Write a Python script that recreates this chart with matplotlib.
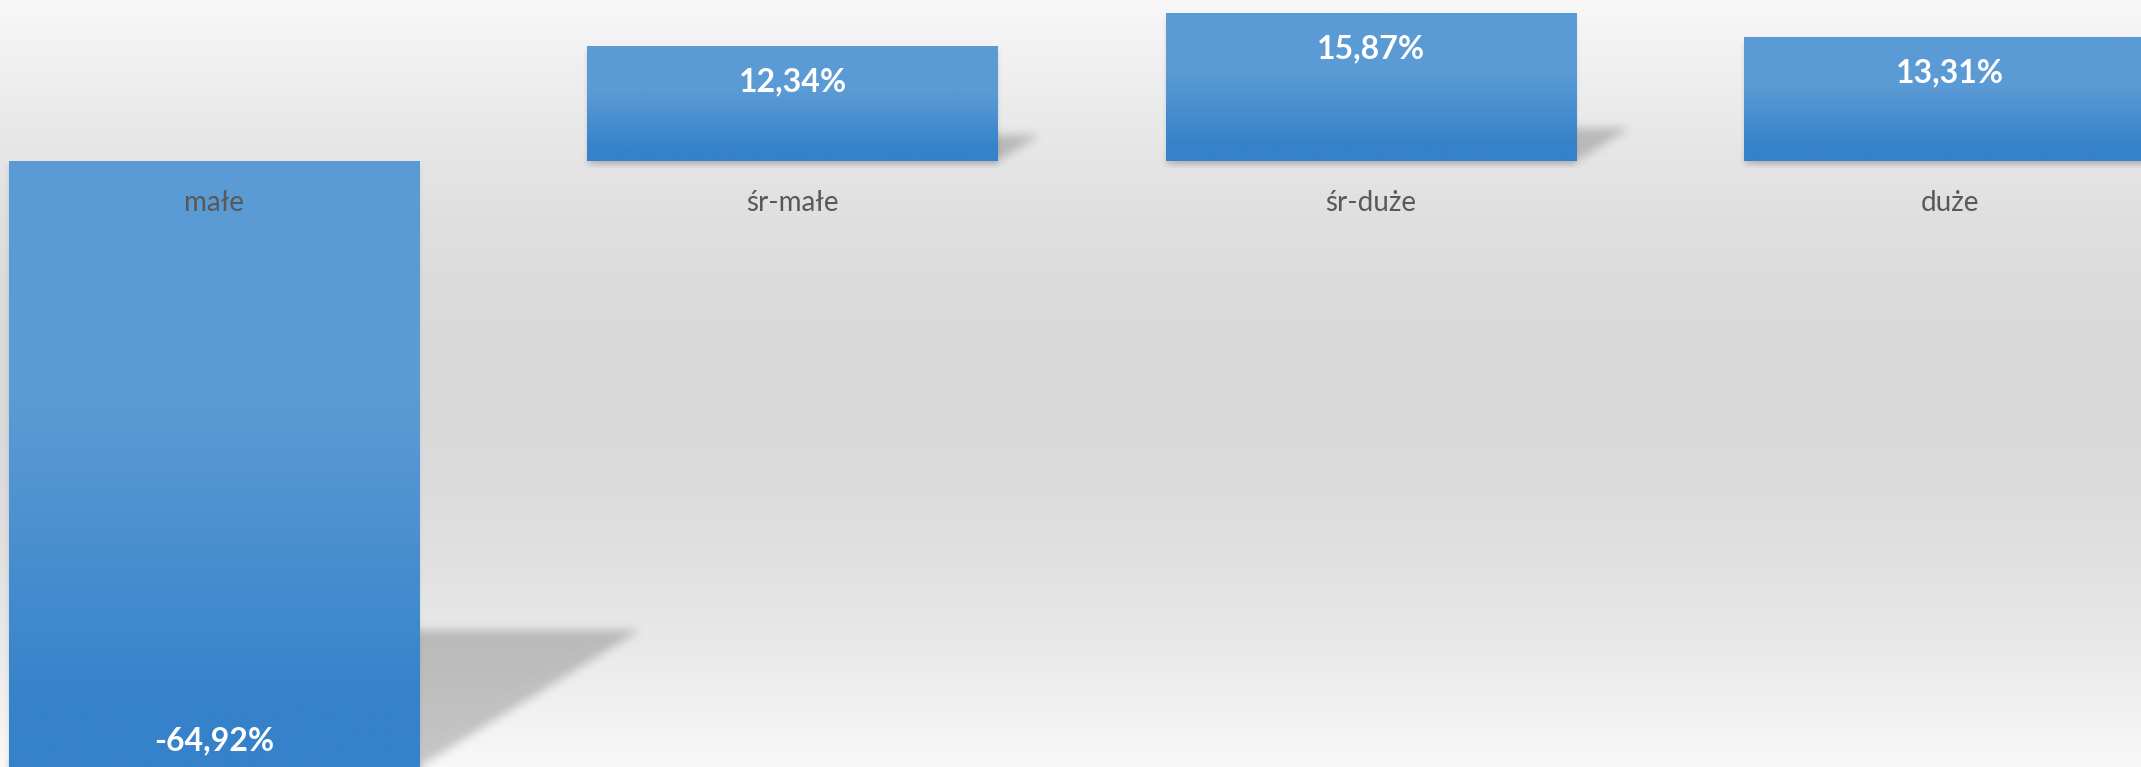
import numpy as np
import matplotlib
matplotlib.use("Agg")
import matplotlib.pyplot as plt
from matplotlib.path import Path

# dane z wykresu
kategorie = ["małe", "śr-małe", "śr-duże", "duże"]
wartosci = [-64.92, 12.34, 15.87, 13.31]
etykiety = ["-64,92%", "12,34%", "15,87%", "13,31%"]

W, H = 2141, 767
plt.rcParams['font.family'] = ['Lato', 'DejaVu Sans']

fig = plt.figure(figsize=(W / 100, H / 100), dpi=100)

# tło - gradient jasny / szary / jasny
ax_bg = fig.add_axes([0, 0, 1, 1], zorder=0)
ax_bg.set_axis_off()
t = np.linspace(0, 1, 400)
szary = 0.973 - (0.973 - 0.851) * np.sin(np.pi * t)
tlo = np.repeat(szary[:, None], 3, axis=1)[:, None, :]
ax_bg.imshow(tlo, extent=(0, 1, 0, 1), aspect='auto', origin='upper',
             interpolation='bilinear', zorder=0)
ax_bg.set_xlim(0, 1)
ax_bg.set_ylim(0, 1)

ax = fig.add_axes([0, 0, 1, 1], zorder=1)
ax.patch.set_alpha(0)
ax.set_axis_off()

x = np.arange(len(kategorie))
szer = 0.71
slupki = ax.bar(x, wartosci, width=szer, color='none', linewidth=0, zorder=3)

# gradient na słupkach (góra jaśniejsza, dół ciemniejszy)
jasny = np.array([91, 155, 213]) / 255
ciemny = np.array([53, 130, 202]) / 255
s = np.clip((np.linspace(0, 1, 300) - 0.4) / 0.5, 0, 1)
grad = (jasny[None, :] * (1 - s[:, None]) + ciemny[None, :] * s[:, None])[:, None, :]
for slupek in slupki:
    x0, y0 = slupek.get_x(), slupek.get_y()
    w, hh = slupek.get_width(), slupek.get_height()
    y_lo, y_hi = min(y0, y0 + hh), max(y0, y0 + hh)
    im = ax.imshow(grad, extent=(x0, x0 + w, y_lo, y_hi), origin='upper',
                   aspect='auto', interpolation='bilinear', zorder=2)
    im.set_clip_path(slupek)

ax.set_xlim(-0.37, 3.331)
ax.set_ylim(-64.95, 17.26)


def rozmyj(a, r):
    for _ in range(3):
        for os_ in (0, 1):
            p = np.pad(a, [(r + 1, r) if i == os_ else (0, 0) for i in range(2)], mode='edge')
            c = np.cumsum(p, axis=os_)
            if os_ == 0:
                a = (c[2 * r + 1:] - c[:-2 * r - 1]) / (2 * r + 1)
            else:
                a = (c[:, 2 * r + 1:] - c[:, :-2 * r - 1]) / (2 * r + 1)
    return a


# cienie (perspektywiczny + lekki pod spodem), liczone w pikselach
yy, xx = np.mgrid[0:H, 0:W]
punkty = np.column_stack([xx.ravel() + 0.5, H - yy.ravel() - 0.5])
maska_p = np.zeros(H * W)
maska_d = np.zeros(H * W)
for xi, v in zip(x, wartosci):
    (lx, yb), = ax.transData.transform([(xi - szer / 2, min(0, v))])
    (rx, yt), = ax.transData.transform([(xi + szer / 2, max(0, v))])
    h = yt - yb
    sk = 0.363 * h
    wys = 0.225 * h
    poly = Path([(lx, yb), (rx, yb), (rx + sk, yb + wys), (lx + sk, yb + wys), (lx, yb)])
    maska_p[poly.contains_points(punkty)] = 1
    prost = Path([(lx, yb - 4), (rx, yb - 4), (rx, yt - 4), (lx, yt - 4), (lx, yb - 4)])
    maska_d[prost.contains_points(punkty)] = 1

alfa = 0.2 * rozmyj(maska_p.reshape(H, W), 4) + 0.12 * rozmyj(maska_d.reshape(H, W), 2)
cien = np.zeros((H, W, 4))
cien[..., 3] = np.clip(alfa, 0, 1)
ax_bg.imshow(cien, extent=(0, 1, 0, 1), origin='upper', aspect='auto',
             interpolation='nearest', zorder=1)

# etykiety
for xi, v, et, kat in zip(x, wartosci, etykiety, kategorie):
    dy = -26 if v >= 0 else 19
    ax.annotate(et, (xi, v), xytext=(0, dy), textcoords='offset points',
                ha='center', va='center', color='white', fontsize=23,
                fontweight='bold', zorder=5, annotation_clip=False)
    ax.annotate(kat, (xi, 0), xytext=(0, -30), textcoords='offset points',
                ha='center', va='center', color='#595959', fontsize=20,
                zorder=5, annotation_clip=False)

fig.savefig("out.png", dpi=100)
plt.close()
